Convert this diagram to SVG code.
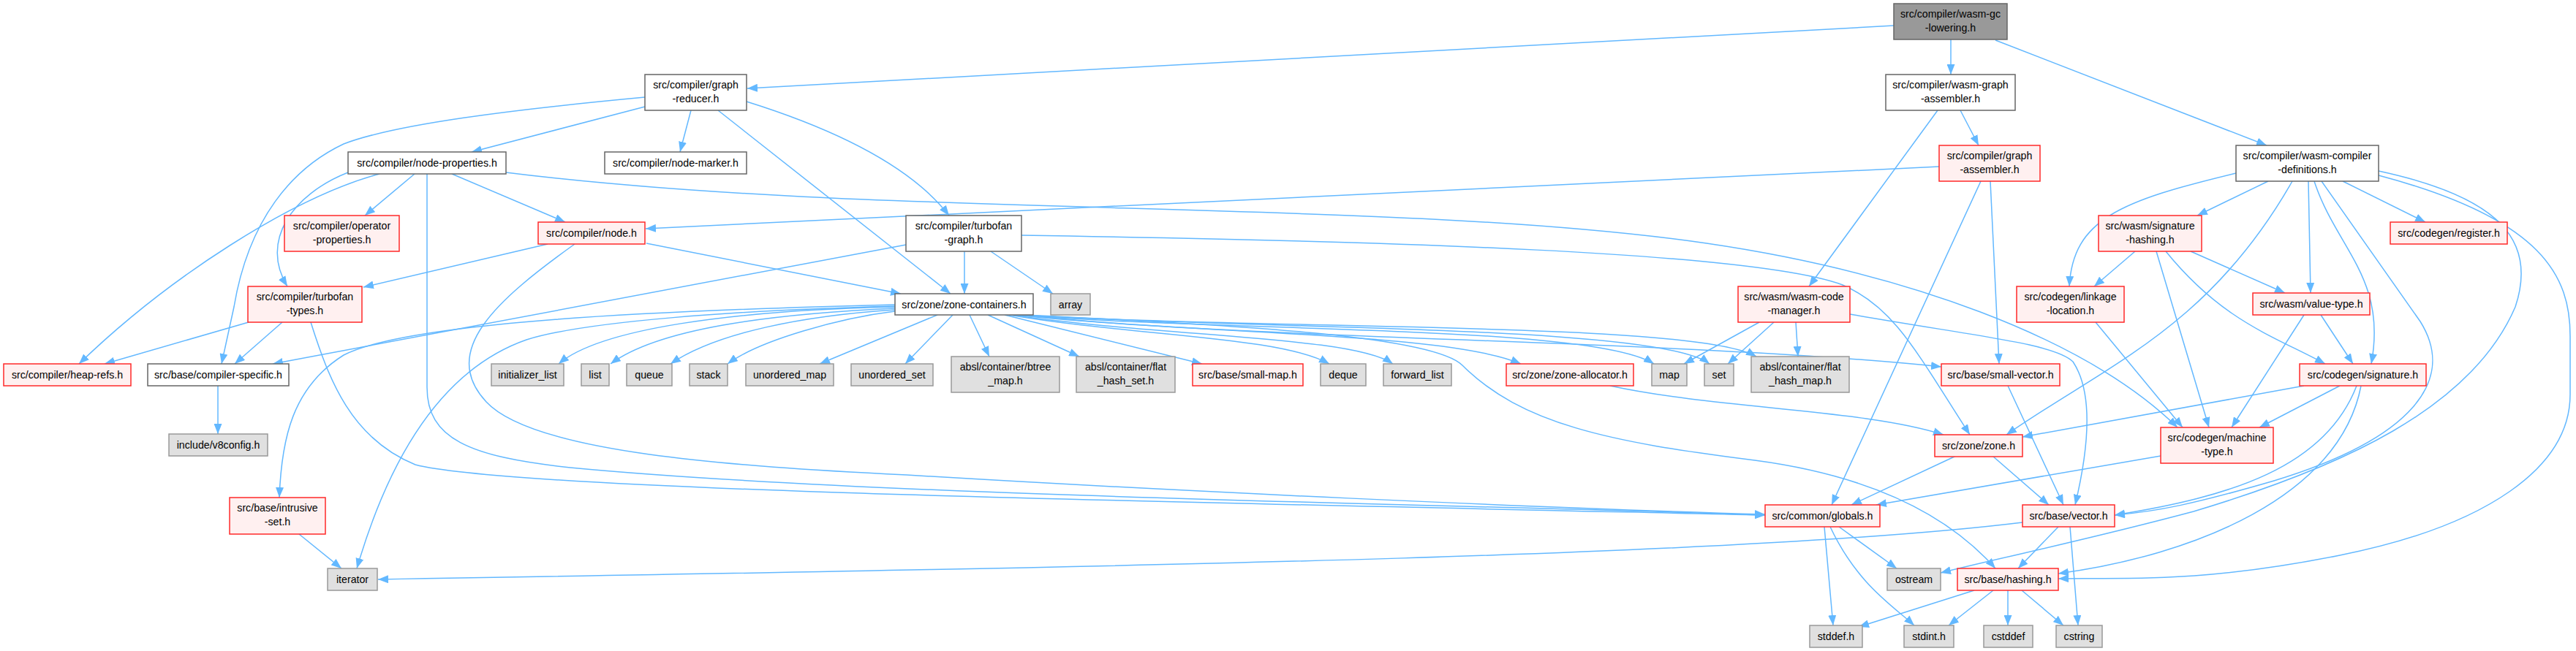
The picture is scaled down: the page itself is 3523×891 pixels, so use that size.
<svg xmlns="http://www.w3.org/2000/svg" width="3523" height="891" viewBox="0 0 3523 891">
<defs>
<style>
.nd rect{stroke-width:1.5}
.w rect{fill:#ffffff;stroke:#666666}
.r rect{fill:#fff0f0;stroke:#ff2a2a}
.g rect{fill:#e0e0e0;stroke:#999999}
.root rect{fill:#999999;stroke:#666666}
.nd text{font-family:"Liberation Sans",Arial,sans-serif;font-size:14.2px;fill:#000000;text-anchor:middle}
.e path{fill:none;stroke:#63b8ff;stroke-width:1.5;marker-end:url(#ah)}
</style>
<marker id="ah" viewBox="0 0 14 11" refX="14" refY="5.5" markerWidth="14" markerHeight="11" markerUnits="userSpaceOnUse" orient="auto"><path d="M0,0 L14,5.5 L0,11 z" fill="#63b8ff"/></marker>
</defs>
<rect width="3523" height="891" fill="#ffffff"/>
<g class="e" id="edges">
<path d="M2590,35 L1022,121"/>
<path d="M2668,54 L2668,102"/>
<path d="M2729,55 L3100,199"/>
<path d="M882,146 L645,208"/>
<path d="M882,133 C700,150 540,170 470,197 C400,230 340,300 320,420 L303,498"/>
<path d="M945,151 L930,208"/>
<path d="M982,151 L1300,402"/>
<path d="M1021,139 C1120,170 1240,220 1298,295"/>
<path d="M2681,151 L2706,199"/>
<path d="M2650,151 L2474,392"/>
<path d="M567,238 L499,295"/>
<path d="M618,238 L773,304"/>
<path d="M476,236 C400,266 355,330 393,392"/>
<path d="M519,238 C400,270 230,380 108,498"/>
<path d="M584,238 L584,530 C584,600 640,625 780,640 C1200,680 2000,690 2414,705"/>
<path d="M692,236 C1200,300 1900,270 2334,333 C2600,372 2850,460 2978,585"/>
<path d="M749,334 L497,393"/>
<path d="M786,334 C680,410 600,480 665,550 C730,620 1000,638 1240,650 C1600,672 2100,695 2414,704"/>
<path d="M884,333 L1232,402"/>
<path d="M1239,335 L373,498"/>
<path d="M1319,344 L1319,402"/>
<path d="M1355,344 L1440,402"/>
<path d="M1397,322 C1900,330 2400,345 2520,390 C2590,420 2620,480 2694,595"/>
<path d="M2652,228 L883,313"/>
<path d="M2709,248 L2505,691"/>
<path d="M2722,248 L2734,498"/>
<path d="M3058,237 C2900,275 2835,300 2830,392"/>
<path d="M3102,248 L3005,295"/>
<path d="M3135,248 C3020,450 2880,500 2744,595"/>
<path d="M3157,248 L3160,401"/>
<path d="M3165,248 C3195,340 3265,380 3243,498"/>
<path d="M3175,248 L3310,440 C3360,520 3300,600 3110,658 C3000,690 2950,700 2892,705"/>
<path d="M3204,248 L3317,304"/>
<path d="M3253,234 C3420,270 3470,330 3440,420 C3380,560 3200,640 3000,700 C2850,740 2750,760 2654,784"/>
<path d="M3253,240 C3480,300 3515,380 3515,460 L3515,540 C3515,640 3400,720 3200,760 C3000,800 2900,790 2815,792"/>
<path d="M2920,344 L2864,392"/>
<path d="M2949,344 L3021,585"/>
<path d="M2962,344 C3040,440 3110,460 3180,498"/>
<path d="M2996,344 L3125,401"/>
<path d="M2866,441 L2985,585"/>
<path d="M3151,431 L3052,585"/>
<path d="M3174,431 L3218,498"/>
<path d="M3151,528 L2766,598"/>
<path d="M3200,528 L3090,585"/>
<path d="M3223,528 C3180,640 3050,680 2892,705"/>
<path d="M3229,528 C3200,680 3000,760 2815,785"/>
<path d="M2955,624 L2566,691"/>
<path d="M2675,624 L2532,691"/>
<path d="M2725,624 L2802,691"/>
<path d="M2746,528 L2822,691"/>
<path d="M2202,528 C2350,560 2550,560 2658,595"/>
<path d="M2406,441 L2303,498"/>
<path d="M2426,441 L2363,498"/>
<path d="M2456,441 L2459,488"/>
<path d="M2530,430 C2700,460 2810,470 2835,495 C2865,540 2855,620 2838,691"/>
<path d="M1224,420 C1000,425 820,450 764,498"/>
<path d="M1224,422 C1050,430 900,450 835,498"/>
<path d="M1224,424 C1100,432 980,455 917,498"/>
<path d="M1224,426 C1150,435 1040,465 995,498"/>
<path d="M1282,431 L1121,498"/>
<path d="M1303,431 L1238,498"/>
<path d="M1326,431 L1353,488"/>
<path d="M1351,431 L1476,488"/>
<path d="M1374,431 L1644,498"/>
<path d="M1380,431 C1550,460 1750,460 1818,498"/>
<path d="M1383,431 C1600,462 1850,460 1905,498"/>
<path d="M1386,431 C1650,458 1980,455 2080,498"/>
<path d="M1389,431 C1700,455 2180,445 2262,498"/>
<path d="M1392,431 C1750,452 2270,445 2338,498"/>
<path d="M1395,431 C1750,452 2320,440 2402,488"/>
<path d="M1398,431 C1700,465 2300,465 2655,502"/>
<path d="M1400,431 C1700,445 1960,460 2000,500 C2080,580 2200,605 2400,630 C2550,650 2660,700 2729,778"/>
<path d="M1224,417 C900,425 560,440 470,486 C400,530 385,600 382,681"/>
<path d="M1224,419 C1000,425 800,440 720,465 C620,500 540,600 488,778"/>
<path d="M340,441 L143,498"/>
<path d="M386,441 L321,498"/>
<path d="M425,441 C450,520 480,600 568,636 C700,670 1500,685 2414,705"/>
<path d="M409,731 L467,778"/>
<path d="M298,528 L298,594"/>
<path d="M2766,715 C2400,760 1600,775 517,793"/>
<path d="M2815,721 L2760,778"/>
<path d="M2831,721 L2842,856"/>
<path d="M2700,808 L2542,858"/>
<path d="M2726,808 L2665,856"/>
<path d="M2746,808 L2746,856"/>
<path d="M2765,808 L2822,856"/>
<path d="M2495,721 L2507,856"/>
<path d="M2503,721 C2540,800 2590,830 2618,856"/>
<path d="M2515,721 L2594,778"/>
</g>
<g id="n0" class="nd root"><rect x="2590" y="5" width="155" height="49"/><text x="2667.5" y="24">src/compiler/wasm-gc</text><text x="2667.5" y="43">-lowering.h</text></g>
<g id="n1" class="nd w"><rect x="882" y="102" width="139" height="49"/><text x="951.5" y="121">src/compiler/graph</text><text x="951.5" y="140">-reducer.h</text></g>
<g id="n2" class="nd w"><rect x="2579" y="102" width="177" height="49"/><text x="2667.5" y="121">src/compiler/wasm-graph</text><text x="2667.5" y="140">-assembler.h</text></g>
<g id="n3" class="nd w"><rect x="476" y="208" width="216" height="30"/><text x="584" y="228">src/compiler/node-properties.h</text></g>
<g id="n4" class="nd w"><rect x="827" y="208" width="194" height="30"/><text x="924" y="228">src/compiler/node-marker.h</text></g>
<g id="n5" class="nd r"><rect x="2652" y="199" width="138" height="49"/><text x="2721" y="218">src/compiler/graph</text><text x="2721" y="237">-assembler.h</text></g>
<g id="n6" class="nd w"><rect x="3058" y="199" width="195" height="49"/><text x="3155.5" y="218">src/compiler/wasm-compiler</text><text x="3155.5" y="237">-definitions.h</text></g>
<g id="n7" class="nd r"><rect x="389" y="295" width="157" height="49"/><text x="467.5" y="314">src/compiler/operator</text><text x="467.5" y="333">-properties.h</text></g>
<g id="n8" class="nd r"><rect x="736" y="304" width="146" height="30"/><text x="809" y="324">src/compiler/node.h</text></g>
<g id="n9" class="nd w"><rect x="1239" y="295" width="158" height="49"/><text x="1318" y="314">src/compiler/turbofan</text><text x="1318" y="333">-graph.h</text></g>
<g id="n10" class="nd r"><rect x="2870" y="295" width="141" height="49"/><text x="2940.5" y="314">src/wasm/signature</text><text x="2940.5" y="333">-hashing.h</text></g>
<g id="n11" class="nd r"><rect x="3269" y="304" width="160" height="30"/><text x="3349" y="324">src/codegen/register.h</text></g>
<g id="n12" class="nd r"><rect x="339" y="392" width="156" height="49"/><text x="417" y="411">src/compiler/turbofan</text><text x="417" y="430">-types.h</text></g>
<g id="n13" class="nd w"><rect x="1224" y="402" width="189" height="29"/><text x="1318.5" y="421.5">src/zone/zone-containers.h</text></g>
<g id="n14" class="nd g"><rect x="1437" y="402" width="54" height="29"/><text x="1464" y="421.5">array</text></g>
<g id="n15" class="nd r"><rect x="2377" y="392" width="153" height="49"/><text x="2453.5" y="411">src/wasm/wasm-code</text><text x="2453.5" y="430">-manager.h</text></g>
<g id="n16" class="nd r"><rect x="2758" y="392" width="147" height="49"/><text x="2831.5" y="411">src/codegen/linkage</text><text x="2831.5" y="430">-location.h</text></g>
<g id="n17" class="nd r"><rect x="3081" y="401" width="160" height="30"/><text x="3161" y="421">src/wasm/value-type.h</text></g>
<g id="n18" class="nd r"><rect x="5" y="498" width="174" height="30"/><text x="92" y="518">src/compiler/heap-refs.h</text></g>
<g id="n19" class="nd w"><rect x="202" y="498" width="193" height="30"/><text x="298.5" y="518">src/base/compiler-specific.h</text></g>
<g id="n20" class="nd g"><rect x="672" y="498" width="99" height="30"/><text x="721.5" y="518">initializer_list</text></g>
<g id="n21" class="nd g"><rect x="795" y="498" width="38" height="30"/><text x="814" y="518">list</text></g>
<g id="n22" class="nd g"><rect x="857" y="498" width="62" height="30"/><text x="888" y="518">queue</text></g>
<g id="n23" class="nd g"><rect x="943" y="498" width="52" height="30"/><text x="969" y="518">stack</text></g>
<g id="n24" class="nd g"><rect x="1020" y="498" width="120" height="30"/><text x="1080" y="518">unordered_map</text></g>
<g id="n25" class="nd g"><rect x="1164" y="498" width="112" height="30"/><text x="1220" y="518">unordered_set</text></g>
<g id="n26" class="nd g"><rect x="1301" y="488" width="148" height="49"/><text x="1375" y="507">absl/container/btree</text><text x="1375" y="526">_map.h</text></g>
<g id="n27" class="nd g"><rect x="1472" y="488" width="135" height="49"/><text x="1539.5" y="507">absl/container/flat</text><text x="1539.5" y="526">_hash_set.h</text></g>
<g id="n28" class="nd r"><rect x="1631" y="498" width="151" height="30"/><text x="1706.5" y="518">src/base/small-map.h</text></g>
<g id="n29" class="nd g"><rect x="1806" y="498" width="62" height="30"/><text x="1837" y="518">deque</text></g>
<g id="n30" class="nd g"><rect x="1892" y="498" width="93" height="30"/><text x="1938.5" y="518">forward_list</text></g>
<g id="n31" class="nd r"><rect x="2060" y="498" width="174" height="30"/><text x="2147" y="518">src/zone/zone-allocator.h</text></g>
<g id="n32" class="nd g"><rect x="2259" y="498" width="48" height="30"/><text x="2283" y="518">map</text></g>
<g id="n33" class="nd g"><rect x="2331" y="498" width="40" height="30"/><text x="2351" y="518">set</text></g>
<g id="n34" class="nd g"><rect x="2395" y="488" width="134" height="49"/><text x="2462" y="507">absl/container/flat</text><text x="2462" y="526">_hash_map.h</text></g>
<g id="n35" class="nd r"><rect x="2655" y="498" width="162" height="30"/><text x="2736" y="518">src/base/small-vector.h</text></g>
<g id="n36" class="nd r"><rect x="3145" y="498" width="173" height="30"/><text x="3231.5" y="518">src/codegen/signature.h</text></g>
<g id="n37" class="nd g"><rect x="231" y="594" width="135" height="30"/><text x="298.5" y="614">include/v8config.h</text></g>
<g id="n38" class="nd r"><rect x="2646" y="595" width="120" height="30"/><text x="2706" y="615">src/zone/zone.h</text></g>
<g id="n39" class="nd r"><rect x="2955" y="585" width="154" height="49"/><text x="3032" y="604">src/codegen/machine</text><text x="3032" y="623">-type.h</text></g>
<g id="n40" class="nd r"><rect x="314" y="681" width="131" height="50"/><text x="379.5" y="700">src/base/intrusive</text><text x="379.5" y="719">-set.h</text></g>
<g id="n41" class="nd r"><rect x="2414" y="691" width="157" height="30"/><text x="2492.5" y="711">src/common/globals.h</text></g>
<g id="n42" class="nd r"><rect x="2766" y="691" width="126" height="30"/><text x="2829" y="711">src/base/vector.h</text></g>
<g id="n43" class="nd g"><rect x="448" y="778" width="68" height="30"/><text x="482" y="798">iterator</text></g>
<g id="n44" class="nd g"><rect x="2581" y="778" width="73" height="30"/><text x="2617.5" y="798">ostream</text></g>
<g id="n45" class="nd r"><rect x="2677" y="778" width="138" height="30"/><text x="2746" y="798">src/base/hashing.h</text></g>
<g id="n46" class="nd g"><rect x="2475" y="856" width="72" height="30"/><text x="2511" y="876">stddef.h</text></g>
<g id="n47" class="nd g"><rect x="2604" y="856" width="68" height="30"/><text x="2638" y="876">stdint.h</text></g>
<g id="n48" class="nd g"><rect x="2713" y="856" width="67" height="30"/><text x="2746.5" y="876">cstddef</text></g>
<g id="n49" class="nd g"><rect x="2812" y="856" width="63" height="30"/><text x="2843.5" y="876">cstring</text></g>
</svg>
